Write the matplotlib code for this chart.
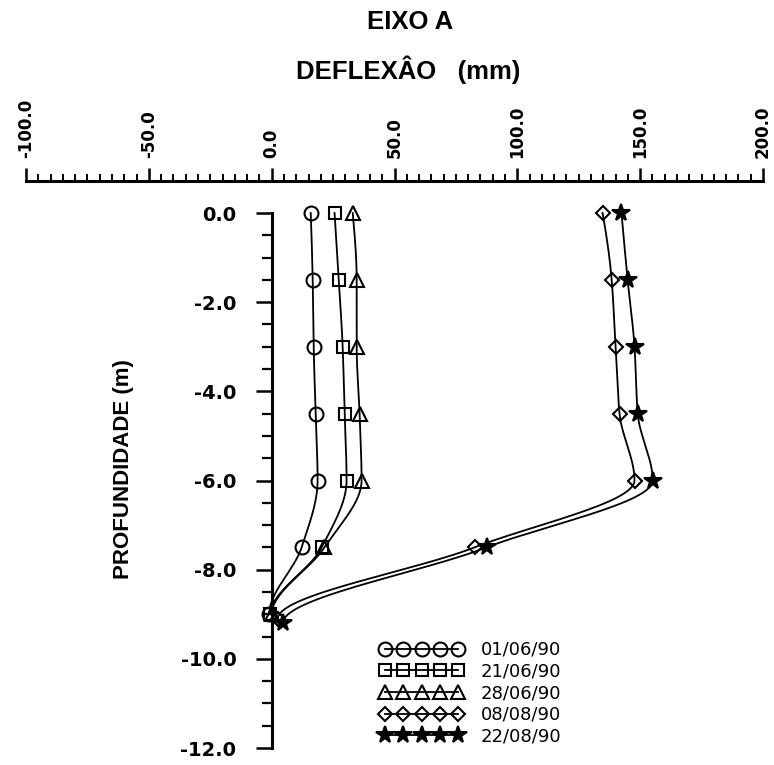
import numpy as np
import matplotlib
matplotlib.use("Agg")
import matplotlib.pyplot as plt
from matplotlib.ticker import MultipleLocator, FormatStrFormatter, FixedLocator

plt.rcParams['axes.unicode_minus'] = False

# ---- data ----
labels = ["01/06/90", "21/06/90", "28/06/90", "08/08/90", "22/08/90"]
depth_a = [0.0, -1.5, -3.0, -4.5, -6.0, -7.5, -9.0]
depth_d = [0.0, -1.5, -3.0, -4.5, -6.0, -7.5, -9.1]
depth_e = [0.0, -1.5, -3.0, -4.5, -6.0, -7.5, -9.2]
defl_0106 = [15.9, 16.7, 17.1, 17.9, 18.7, 12.2, -1.0]
defl_2106 = [25.6, 27.3, 28.9, 29.7, 30.5, 20.4, -0.5]
defl_2806 = [33.0, 34.6, 34.6, 35.8, 36.6, 21.5, 0.0]
defl_0808 = [134.7, 138.4, 140.0, 141.6, 147.7, 82.6, 2.5]
defl_2208 = [142.4, 144.9, 147.7, 149.0, 155.1, 87.5, 4.5]

x_ticks = [-100, -50, 0, 50, 100, 150, 200]
y_ticks = [0, -2, -4, -6, -8, -10, -12]

series = [
    (defl_0106, depth_a, dict(marker='o', ms=10, mfc='none')),
    (defl_2106, depth_a, dict(marker='s', ms=9, mfc='none')),
    (defl_2806, depth_a, dict(marker='^', ms=10, mfc='none')),
    (defl_0808, depth_d, dict(marker='D', ms=7.5, mfc='none')),
    (defl_2208, depth_e, dict(marker='*', ms=13, mfc='black')),
]


def smooth(xs, ys, n=30):
    """Monotone cubic (PCHIP) of deflection as a function of depth."""
    t = -np.asarray(ys, float)
    x = np.asarray(xs, float)
    h = np.diff(t)
    d = np.diff(x) / h
    m = np.zeros_like(x)
    for k in range(1, len(x) - 1):
        if d[k - 1] * d[k] > 0:
            w1 = 2 * h[k] + h[k - 1]
            w2 = h[k] + 2 * h[k - 1]
            m[k] = (w1 + w2) / (w1 / d[k - 1] + w2 / d[k])
    # start: three-point end formula; end: vertical (clamped) approach
    m0 = ((2 * h[0] + h[1]) * d[0] - h[0] * d[1]) / (h[0] + h[1])
    m[0] = m0 if m0 * d[0] > 0 else 0.0
    m[-1] = 0.0
    tt, xx = [], []
    for k in range(len(x) - 1):
        s = np.linspace(0, 1, n)
        if k > 0:
            s = s[1:]
        h00 = 2 * s**3 - 3 * s**2 + 1
        h10 = s**3 - 2 * s**2 + s
        h01 = -2 * s**3 + 3 * s**2
        h11 = s**3 - s**2
        xx.append(h00 * x[k] + h10 * h[k] * m[k] + h01 * x[k + 1] + h11 * h[k] * m[k + 1])
        tt.append(t[k] + s * h[k])
    return np.concatenate(xx), -np.concatenate(tt)


W, H = 774, 765
fig = plt.figure(figsize=(W / 100, H / 100), dpi=100)
ax = fig.add_axes([26 / W, 1 - 748 / H, (763 - 26) / W, (748 - 181) / H])
ax.set_xlim(-100, 200)
ax.set_ylim(-12, 0.718)

for (xs, ys, st), lab in zip(series, labels):
    sx, sy = smooth(xs, ys)
    ax.plot(sx, sy, color='black', lw=1.3, zorder=2)
    ax.plot(xs, ys, linestyle='none', color='black', mec='black', mew=1.5,
            zorder=3, **st)
    ax.plot([], [], color='black', lw=1.3, mec='black', mew=1.5, label=lab, **st)

# spines
for s in ['bottom', 'right']:
    ax.spines[s].set_visible(False)
ax.spines['top'].set_linewidth(2.2)
ax.spines['left'].set_linewidth(2.2)
ax.spines['left'].set_position(('data', 0))
ax.spines['left'].set_bounds(-12, 0)

# x axis on top
ax.xaxis.tick_top()
ax.set_xticks(x_ticks)
ax.xaxis.set_major_formatter(FormatStrFormatter('%.1f'))
ax.xaxis.set_minor_locator(MultipleLocator(5))
ax.tick_params(axis='x', which='major', direction='out', length=9.4, width=1.8,
               pad=7, labelsize=12, labelrotation=90)
ax.tick_params(axis='x', which='minor', direction='out', length=5, width=1.4)
for t in ax.get_xticklabels():
    t.set_fontweight('bold')
    t.set_family('DejaVu Sans')

# y axis
ax.set_yticks(y_ticks)
ax.yaxis.set_major_formatter(FormatStrFormatter('%.1f'))
ax.yaxis.set_minor_locator(FixedLocator(np.arange(-12, 0.01, 0.5)))
ax.tick_params(axis='y', which='major', direction='out', length=11.5, width=1.8,
               pad=14, labelsize=14)
ax.tick_params(axis='y', which='minor', direction='out', length=7, width=1.6)
for t in ax.get_yticklabels():
    t.set_fontweight('bold')
    t.set_family('DejaVu Sans')

# titles and labels
fig.text(410 / W, 1 - 22 / H, "EIXO A", ha='center', va='center',
         fontsize=18.5, fontweight='bold', family='Liberation Sans')
fig.text(408 / W, 1 - 70 / H, "DEFLEXÂO   (mm)", ha='center', va='center',
         fontsize=18.5, fontweight='bold', family='Liberation Sans')
fig.text(123.5 / W, 1 - 469 / H, "PROFUNDIDADE (m)", ha='center', va='center',
         rotation=90, fontsize=16, fontweight='bold', family='Liberation Sans')

leg = ax.legend(loc='upper left', bbox_to_anchor=(380 / W, 1 - 641 / H),
                bbox_transform=fig.transFigure, frameon=False, borderpad=0,
                borderaxespad=0, numpoints=5, handlelength=4.6,
                handletextpad=1.0, labelspacing=0.2,
                prop={'family': 'DejaVu Sans', 'size': 13})

fig.savefig("out.png", dpi=100, facecolor='white')
